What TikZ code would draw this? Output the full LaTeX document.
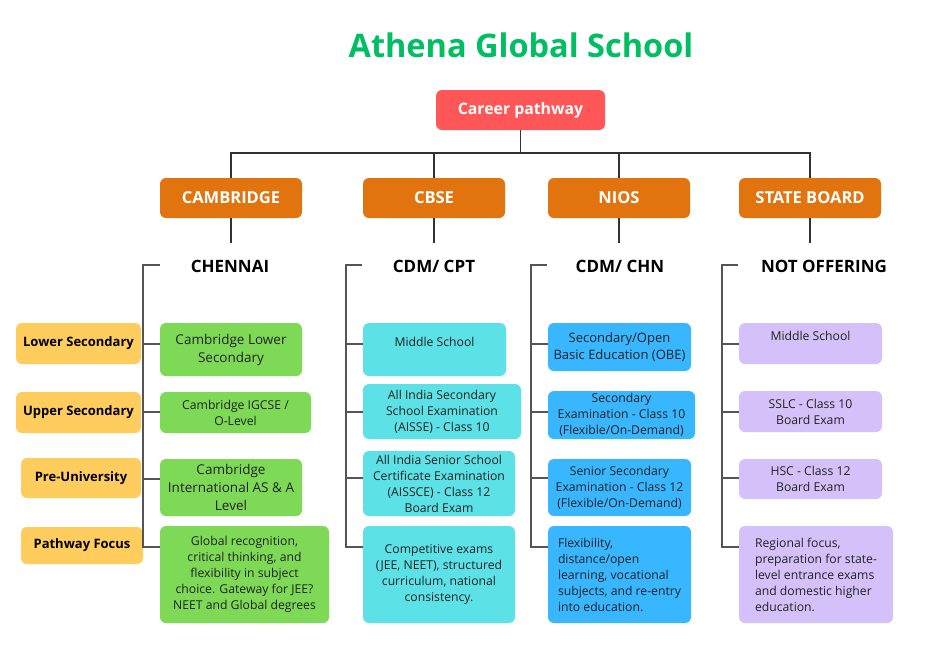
\documentclass[tikz,border=0pt]{standalone}
\usepackage{fontspec}
\usetikzlibrary{calc}
\setmainfont{Open Sans}
\definecolor{titlegreen}{HTML}{00BF63}
\definecolor{rootred}{HTML}{FF5757}
\definecolor{boardorange}{HTML}{E2740F}
\definecolor{lvlyellow}{HTML}{FFCC5E}
\definecolor{camgreen}{HTML}{7ED957}
\definecolor{cbsecyan}{HTML}{5CE1E6}
\definecolor{niosblue}{HTML}{38B6FF}
\definecolor{sbpurple}{HTML}{D5C1FA}
\definecolor{txt}{HTML}{222222}
\definecolor{linegray}{HTML}{555555}
\begin{document}
\begin{tikzpicture}[x=1pt,y=-1pt,
  title/.style={font=\fontsize{32.5}{38}\bfseries\selectfont, text=titlegreen, inner sep=0pt},
  root/.style={fill=rootred, rounded corners=6pt, text=white, font=\fontsize{15.8}{18}\bfseries\selectfont, inner sep=0pt},
  board/.style={fill=boardorange, rounded corners=6pt, text=white, font=\fontsize{16.5}{19}\bfseries\selectfont, inner sep=0pt, minimum width=142pt, minimum height=40pt},
  head/.style={font=\fontsize{17}{20}\bfseries\selectfont, text=black, inner sep=0pt},
  lvl/.style={fill=lvlyellow, rounded corners=6pt, text=black, font=\fontsize{13}{15}\bfseries\selectfont, inner sep=0pt},
  box/.style={rounded corners=6pt, text=txt, font=\fontsize{12.2}{16}\selectfont, inner sep=0pt, align=center},
  gbox/.style={box, fill=camgreen},
  cbox/.style={box, fill=cbsecyan},
  bbox/.style={box, fill=niosblue},
  pbox/.style={box, fill=sbpurple},
  tree/.style={draw=black!80, line width=1.2pt},
  br/.style={draw=linegray, line width=1.6pt}]
\useasboundingbox (0,0) rectangle (930,670);
\fill[white] (0,0) rectangle (930,670);

\node[title] (t) at (521,45) {Athena Global School};
\node[root, minimum width=169pt, minimum height=40pt] (cp) at (520.5,110) {Career pathway};

\node[board] (cam) at (231,198) {CAMBRIDGE};
\node[board] (cbse) at (434,198) {CBSE};
\node[board] (nios) at (619,198) {NIOS};
\node[board] (sb) at (810,198) {STATE BOARD};

\coordinate (j) at (520.5,153);
\draw[tree] (cp.south) -- (j);
\draw[tree] (cam.north) -- (cam.north |- j) -- (sb.north |- j) -- (sb.north);
\draw[tree] (cbse.north) -- (cbse.north |- j);
\draw[tree] (nios.north) -- (nios.north |- j);

\node[head] (h1) at (230,266) {CHENNAI};
\node[head] (h2) at (434,266) {CDM/ CPT};
\node[head] (h3) at (620,266) {CDM/ CHN};
\node[head] (h4) at (824,266) {NOT OFFERING};
\draw[tree] (cam.south) -- ++(0,25);
\draw[tree] (cbse.south) -- ++(0,25);
\draw[tree] (nios.south) -- ++(0,25);
\draw[tree] (sb.south) -- ++(0,25);

% level labels
\node[lvl, minimum width=125pt, minimum height=41pt] (l1) at (78.5,343.5) {Lower Secondary};
\node[lvl, minimum width=125pt, minimum height=41pt] (l2) at (78.5,412.5) {Upper Secondary};
\node[lvl, minimum width=120pt, minimum height=40pt] (l3) at (81,478) {Pre-University};
\node[lvl, minimum width=122pt, minimum height=37pt] (l4) at (82,545.5) {Pathway Focus};

% Cambridge
\node[gbox, minimum width=142pt, minimum height=53pt, font=\fontsize{13.5}{18}\selectfont] (g1) at (231,349.5) {Cambridge Lower\\Secondary};
\node[gbox, minimum width=151pt, minimum height=41pt] (g2) at (235.5,412.5) {Cambridge IGCSE /\\O-Level};
\node[gbox, minimum width=142pt, minimum height=57pt, font=\fontsize{13.5}{18}\selectfont] (g3) at (231,487.5) {Cambridge\\International AS \& A\\Level};
\node[gbox, minimum width=169pt, minimum height=97pt] (g4) at (244.5,574.5) {Global recognition,\\critical thinking, and\\flexibility in subject\\choice. Gateway for JEE?\\NEET and Global degrees};

% CBSE
\node[cbox, minimum width=143pt, minimum height=53pt] (c1) at (434.5,349.5) {Middle School\\\mbox{}};
\node[cbox, minimum width=158pt, minimum height=55pt] (c2) at (442,411.5) {All India Secondary\\School Examination\\(AISSE) - Class 10};
\node[cbox, minimum width=152pt, minimum height=65pt] (c3) at (439,483.5) {All India Senior School\\Certificate Examination\\(AISSCE) - Class 12\\Board Exam};
\node[cbox, minimum width=152pt, minimum height=97pt] (c4) at (439,574.5) {Competitive exams\\(JEE, NEET), structured\\curriculum, national\\consistency.};

% NIOS
\node[bbox, minimum width=143pt, minimum height=48pt, font=\fontsize{13}{17}\selectfont] (n1) at (619.5,347) {Secondary/Open\\Basic Education (OBE)};
\node[bbox, minimum width=147pt, minimum height=48pt] (n2) at (621.5,415) {Secondary\\Examination - Class 10\\(Flexible/On-Demand)};
\node[bbox, minimum width=143pt, minimum height=57pt] (n3) at (619.5,487.5) {Senior Secondary\\Examination - Class 12\\(Flexible/On-Demand)};
\node[bbox, minimum width=143pt, minimum height=97pt, align=left] (n4) at (619.5,574.5) {Flexibility,\\distance/open\\learning, vocational\\subjects, and re-entry\\into education.};

% State board
\node[pbox, minimum width=143pt, minimum height=41pt] (p1) at (810.5,343.5) {Middle School\\\mbox{}};
\node[pbox, minimum width=143pt, minimum height=41pt] (p2) at (810.5,411.5) {SSLC - Class 10\\Board Exam};
\node[pbox, minimum width=143pt, minimum height=40pt] (p3) at (810.5,479) {HSC - Class 12\\Board Exam};
\node[pbox, minimum width=154pt, minimum height=97pt, align=left] (p4) at (816,574.5) {Regional focus,\\preparation for state-\\level entrance exams\\and domestic higher\\education.};

% brackets
\coordinate (s1) at (143,265);
\coordinate (s2) at (346,265);
\coordinate (s3) at (531,265);
\coordinate (s4) at (722,265);
\draw[br] ($(s1)+(17,0)$) -- (s1) -- (s1 |- 0,547) -- (g4.west |- 0,547);
\draw[br] ($(s2)+(16,0)$) -- (s2) -- (s2 |- 0,547) -- (c4.west |- 0,547);
\draw[br] ($(s3)+(16,0)$) -- (s3) -- (s3 |- 0,547) -- (n4.west |- 0,547);
\draw[br] ($(s4)+(16,0)$) -- (s4) -- (s4 |- 0,547) -- (p4.west |- 0,547);
\draw[br] (s1 |- 0,344) -- (g1.west |- 0,344);
\draw[br] (s1 |- 0,412) -- (g2.west |- 0,412);
\draw[br] (s1 |- 0,479) -- (g3.west |- 0,479);
\draw[br] (s2 |- 0,344) -- (c1.west |- 0,344);
\draw[br] (s2 |- 0,412) -- (c2.west |- 0,412);
\draw[br] (s2 |- 0,478) -- (c3.west |- 0,478);
\draw[br] (s3 |- 0,344) -- (n1.west |- 0,344);
\draw[br] (s3 |- 0,412) -- (n2.west |- 0,412);
\draw[br] (s3 |- 0,478) -- (n3.west |- 0,478);
\draw[br] (s4 |- 0,344) -- (p1.west |- 0,344);
\draw[br] (s4 |- 0,412) -- (p2.west |- 0,412);
\draw[br] (s4 |- 0,478) -- (p3.west |- 0,478);
\end{tikzpicture}
\end{document}
